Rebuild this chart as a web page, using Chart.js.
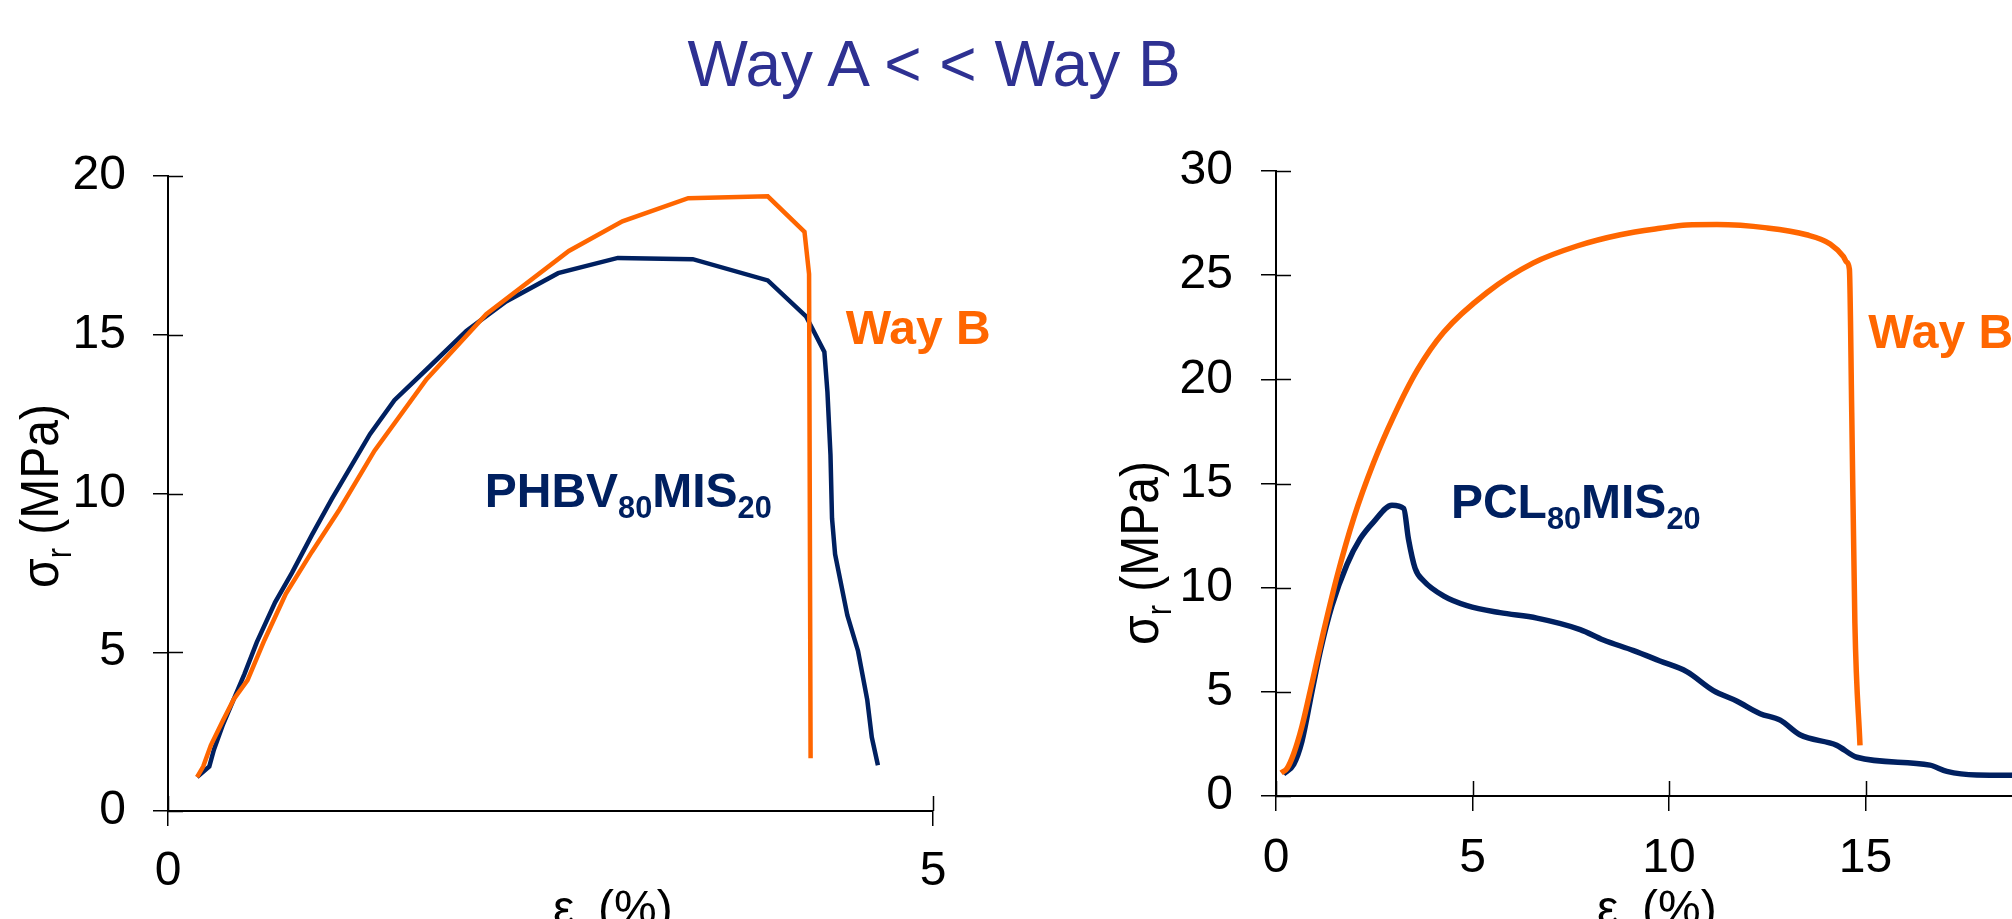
<!DOCTYPE html>
<html>
<head>
<meta charset="utf-8">
<script src="https://cdn.jsdelivr.net/npm/chart.js@4.4.1/dist/chart.umd.min.js"></script>
<style>
html, body { margin: 0; padding: 0; width: 2012px; height: 919px; overflow: hidden; background: #fff; }
#naslov { position: absolute; left: 0; top: 32px; width: 1868px; text-align: center; font-family: "Liberation Sans", Arial, sans-serif; font-size: 64px; line-height: 64px; color: #2E3192; white-space: pre; }
canvas { position: absolute; top: 0; }
</style>
</head>
<body>
<div id="naslov">Way A &lt; &lt; Way B</div>
<canvas id="phbv" width="1000" height="919" style="left:0"></canvas>
<canvas id="pcl" width="1100" height="919" style="left:1100px"></canvas>
<script>
// PHBV80MIS20 - deformacija (%) in napetost (MPa)
const phbv_a_x = [0.19, 0.27, 0.30, 0.36, 0.43, 0.50, 0.58, 0.70, 0.81, 0.94, 1.07, 1.32, 1.48, 1.71, 1.95, 2.21, 2.55, 2.94, 3.43, 3.92, 4.17, 4.29, 4.31, 4.33, 4.34, 4.36, 4.44, 4.51, 4.57, 4.60, 4.64];
const phbv_a_y = [1.07, 1.40, 1.93, 2.73, 3.52, 4.32, 5.31, 6.57, 7.50, 8.69, 9.82, 11.87, 12.94, 14.00, 15.12, 16.05, 16.94, 17.42, 17.38, 16.71, 15.58, 14.46, 13.20, 11.21, 9.22, 8.09, 6.17, 5.04, 3.51, 2.32, 1.44];
const phbv_b_x = [0.19, 0.23, 0.28, 0.36, 0.43, 0.52, 0.63, 0.77, 0.94, 1.12, 1.35, 1.69, 2.08, 2.62, 2.97, 3.40, 3.92, 4.16, 4.19, 4.20];
const phbv_b_y = [1.07, 1.40, 2.07, 2.86, 3.52, 4.12, 5.38, 6.84, 8.16, 9.49, 11.35, 13.60, 15.65, 17.64, 18.57, 19.30, 19.36, 18.24, 16.91, 1.66];

// PCL80MIS20
const pcl_a_x = [0.19, 0.45, 0.66, 0.92, 1.13, 1.42, 1.81, 2.14, 2.48, 2.95, 3.25, 3.37, 3.54, 3.76, 4.26, 4.86, 5.70, 6.64, 7.74, 8.33, 9.10, 9.77, 10.45, 11.13, 11.72, 12.32, 12.83, 13.33, 14.27, 14.78, 16.64, 17.07, 17.83, 18.75];
const pcl_a_y = [1.06, 1.52, 2.63, 5.06, 6.98, 9.11, 11.13, 12.34, 13.15, 13.96, 13.80, 12.34, 10.93, 10.32, 9.61, 9.14, 8.80, 8.54, 7.99, 7.49, 6.98, 6.48, 5.97, 5.06, 4.56, 3.95, 3.64, 2.94, 2.43, 1.86, 1.48, 1.18, 1.01, 1.00];
const pcl_b_x = [0.13, 0.28, 0.45, 0.66, 0.92, 1.21, 1.55, 1.98, 2.48, 2.99, 3.59, 4.26, 5.37, 6.55, 7.66, 8.76, 9.77, 10.45, 11.22, 12.49, 13.50, 14.10, 14.44, 14.52, 14.59, 14.65, 14.73, 14.86];
const pcl_b_y = [1.11, 1.32, 2.03, 3.34, 5.46, 7.89, 10.52, 13.35, 15.98, 18.21, 20.43, 22.25, 24.17, 25.59, 26.40, 26.94, 27.25, 27.41, 27.43, 27.27, 26.94, 26.50, 25.89, 25.63, 25.29, 18.41, 8.29, 2.43];

// osi
const phbv_meje_x = [0, 5];
const phbv_meje_y = [0, 20];
const pcl_meje_x = [0, 20];
const pcl_meje_y = [0, 30];
const korak = 5;

const pisava = '"Liberation Sans", Arial, sans-serif';
const oranzna = '#FF6600';
const modra = '#002060';
const crna = '#000';
const dolzina_crtice = 15;

Chart.defaults.font.family = pisava;

function tocke(xs, ys) {
    return xs.map((x, i) => ({ x: x, y: ys[i] }));
}

function nastavi_os(meje, polnilo, velikost, je_x) {
    return {
        type: 'linear',
        min: meje[0],
        max: meje[1],
        ticks: { stepSize: korak, font: { size: 48 }, color: crna, padding: polnilo, maxRotation: 0, autoSkip: false, includeBounds: false },
        grid: { display: true, drawOnChartArea: false, drawTicks: true, tickLength: dolzina_crtice, color: crna, lineWidth: 1.5 },
        border: { display: true, color: crna, width: 2 },
        afterFit: je_x ? (s) => { s.height = velikost; } : (s) => { s.width = velikost; }
    };
}

// crtice, ki gredo tudi v notranjost grafa
const notranje_crtice = {
    id: 'notranje_crtice',
    beforeDatasetsDraw(chart) {
        const ctx = chart.ctx;
        const a = chart.chartArea;
        ctx.save();
        ctx.strokeStyle = crna;
        ctx.lineWidth = 1.5;
        ctx.beginPath();
        for (const t of chart.scales.y.ticks) {
            const py = Math.round(chart.scales.y.getPixelForValue(t.value)) + 0.5;
            ctx.moveTo(a.left, py);
            ctx.lineTo(a.left + dolzina_crtice, py);
        }
        for (const t of chart.scales.x.ticks) {
            const px = Math.round(chart.scales.x.getPixelForValue(t.value)) + 0.5;
            ctx.moveTo(px, a.bottom);
            ctx.lineTo(px, a.bottom - dolzina_crtice);
        }
        ctx.stroke();
        ctx.restore();
    }
};

function sirina_delov(ctx, deli, vel, debelo) {
    let w = 0;
    for (const d of deli) {
        ctx.font = (debelo ? 'bold ' : '') + (d.sub ? vel * 0.64 : vel) + 'px ' + pisava;
        w += ctx.measureText(d.t).width;
    }
    return w;
}

function pisi_dele(ctx, x, y, deli, vel, debelo) {
    let px = x;
    for (const d of deli) {
        ctx.font = (debelo ? 'bold ' : '') + (d.sub ? vel * 0.64 : vel) + 'px ' + pisava;
        ctx.fillText(d.t, px, y + (d.sub ? vel * 0.24 : 0));
        px += ctx.measureText(d.t).width;
    }
}

const naslov_y = [{ t: 'σ' }, { t: 'r', sub: true }, { t: ' (MPa)' }];
const naslov_x = [{ t: 'ε' }, { t: 'r', sub: true }, { t: ' (%)' }];

const napisi = {
    id: 'napisi',
    afterDatasetsDraw(chart, args, opts) {
        const ctx = chart.ctx;
        ctx.save();
        ctx.textBaseline = 'alphabetic';
        ctx.textAlign = 'left';
        for (const o of opts.oznake) {
            ctx.fillStyle = o.barva;
            const px = chart.scales.x.getPixelForValue(o.x);
            const py = chart.scales.y.getPixelForValue(o.y);
            pisi_dele(ctx, px, py, o.deli, o.vel, true);
        }
        ctx.fillStyle = crna;
        pisi_dele(ctx, opts.os_x[0], opts.os_x[1], naslov_x, 48, false);
        ctx.translate(opts.os_y[0], opts.os_y[1]);
        ctx.rotate(-Math.PI / 2);
        ctx.scale(1, 1.12);
        const w = sirina_delov(ctx, naslov_y, 48, false);
        pisi_dele(ctx, -w / 2, 0, naslov_y, 48, false);
        ctx.restore();
    }
};

const platno_phbv = document.getElementById('phbv').getContext('2d');
const graf_phbv = new Chart(platno_phbv, {
    type: 'line',
    data: {
        datasets: [{
            label: 'Way B',
            data: tocke(phbv_b_x, phbv_b_y),
            borderColor: oranzna,
            borderWidth: 4.5,
            pointRadius: 0,
            tension: 0,
            fill: false
        }, {
            label: 'Way A',
            data: tocke(phbv_a_x, phbv_a_y),
            borderColor: modra,
            borderWidth: 4.5,
            pointRadius: 0,
            tension: 0,
            fill: false
        }]
    },
    options: {
        responsive: false,
        animation: false,
        devicePixelRatio: 1,
        layout: { padding: { left: 0, top: 176, right: 67, bottom: 0 } },
        plugins: {
            legend: { display: false },
            tooltip: { enabled: false },
            napisi: {
                oznake: [
                    { x: 2.07, y: 9.59, vel: 48, barva: modra, deli: [{ t: 'PHBV' }, { t: '80', sub: true }, { t: 'MIS' }, { t: '20', sub: true }] },
                    { x: 4.43, y: 14.72, vel: 48, barva: oranzna, deli: [{ t: 'Way B' }] }
                ],
                os_x: [553, 924],
                os_y: [58, 496]
            }
        },
        scales: {
            x: nastavi_os(phbv_meje_x, 17, 108, true),
            y: nastavi_os(phbv_meje_y, 27, 168, false)
        }
    },
    plugins: [notranje_crtice, napisi]
});

const platno_pcl = document.getElementById('pcl').getContext('2d');
const graf_pcl = new Chart(platno_pcl, {
    type: 'line',
    data: {
        datasets: [{
            label: 'Way B',
            data: tocke(pcl_b_x, pcl_b_y),
            borderColor: oranzna,
            borderWidth: 5.5,
            pointRadius: 0,
            cubicInterpolationMode: 'monotone',
            fill: false
        }, {
            label: 'Way A',
            data: tocke(pcl_a_x, pcl_a_y),
            borderColor: modra,
            borderWidth: 5.5,
            pointRadius: 0,
            cubicInterpolationMode: 'monotone',
            fill: false
        }]
    },
    options: {
        responsive: false,
        animation: false,
        devicePixelRatio: 1,
        layout: { padding: { left: 0, top: 171, right: 138, bottom: 0 } },
        plugins: {
            legend: { display: false },
            tooltip: { enabled: false },
            napisi: {
                oznake: [
                    { x: 4.45, y: 13.35, vel: 48, barva: modra, deli: [{ t: 'PCL' }, { t: '80', sub: true }, { t: 'MIS' }, { t: '20', sub: true }] },
                    { x: 15.07, y: 21.5, vel: 48, barva: oranzna, deli: [{ t: 'Way B' }] }
                ],
                os_x: [497, 924],
                os_y: [58, 553]
            }
        },
        scales: {
            x: nastavi_os(pcl_meje_x, 19, 123, true),
            y: nastavi_os(pcl_meje_y, 28, 176, false)
        }
    },
    plugins: [notranje_crtice, napisi]
});
</script>
</body>
</html>
